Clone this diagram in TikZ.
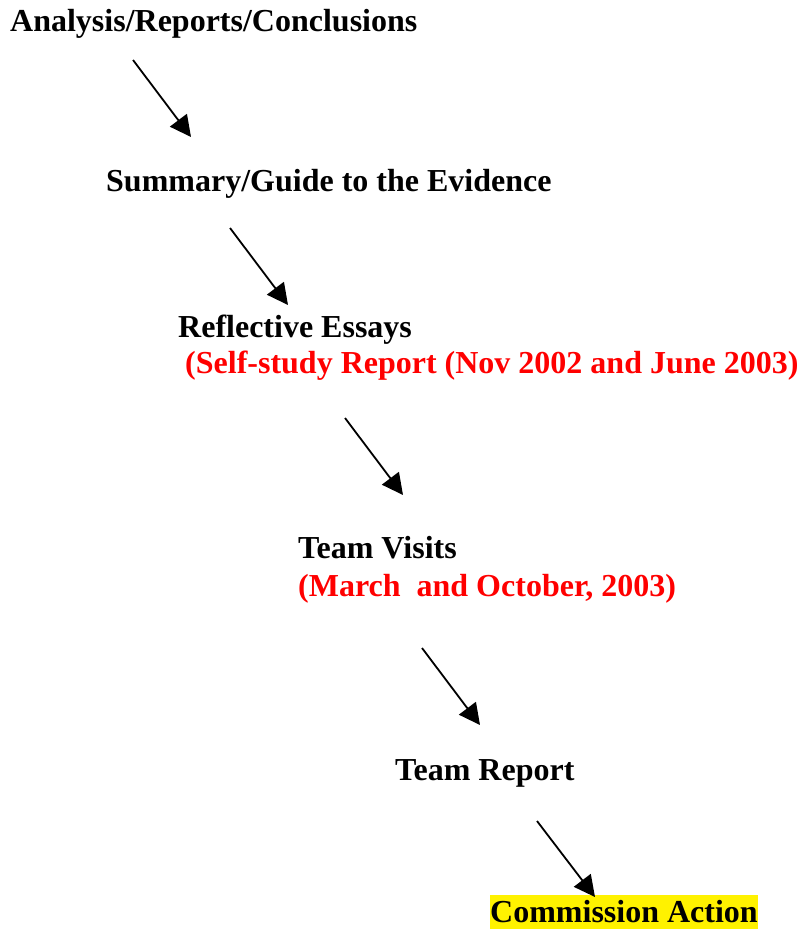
\documentclass[tikz,border=0pt]{standalone}
\usepackage{fontspec}
\setmainfont{Liberation Serif}
\usetikzlibrary{arrows.meta}
\begin{document}
\begin{tikzpicture}[x=1pt,y=-1pt,
  lbl/.style={anchor=base west,inner sep=0pt,font=\fontsize{32}{38}\selectfont\bfseries},
  sub/.style={lbl,text=red},
  flow/.style={line width=1.8pt,-{Triangle[length=21pt,width=21pt]}}]
\useasboundingbox (0,0) rectangle (801,930);
\node[lbl] (ana) at (10,31) {Analysis/Reports/Conclusions};
\node[lbl] (sum) at (106,191) {Summary/Guide to the Evidence};
\node[lbl] (ref) at (178,337) {Reflective Essays};
\node[sub] (refs) at (185,373) {(Self-study Report (Nov 2002 and June 2003)};
\node[lbl] (vis) at (298,558) {Team Visits};
\node[sub] (viss) at (298,596) {(March\ \ and October, 2003)};
\node[lbl] (rep) at (395,780) {Team Report};
\node[lbl,fill=yellow,inner xsep=0.5pt,text height=27pt,text depth=6.5pt] (com) at (489.5,922) {Commission Action};
\coordinate (a1) at (133,60);  \coordinate (b1) at (191,137);
\coordinate (a2) at (230,228); \coordinate (b2) at (288,305);
\coordinate (a3) at (345,418); \coordinate (b3) at (403,495);
\coordinate (a4) at (422,648); \coordinate (b4) at (480,725);
\coordinate (a5) at (537,821); \coordinate (b5) at (595,897);
\draw[flow] (a1) -- (b1);
\draw[flow] (a2) -- (b2);
\draw[flow] (a3) -- (b3);
\draw[flow] (a4) -- (b4);
\draw[flow] (a5) -- (b5);
\end{tikzpicture}
\end{document}
